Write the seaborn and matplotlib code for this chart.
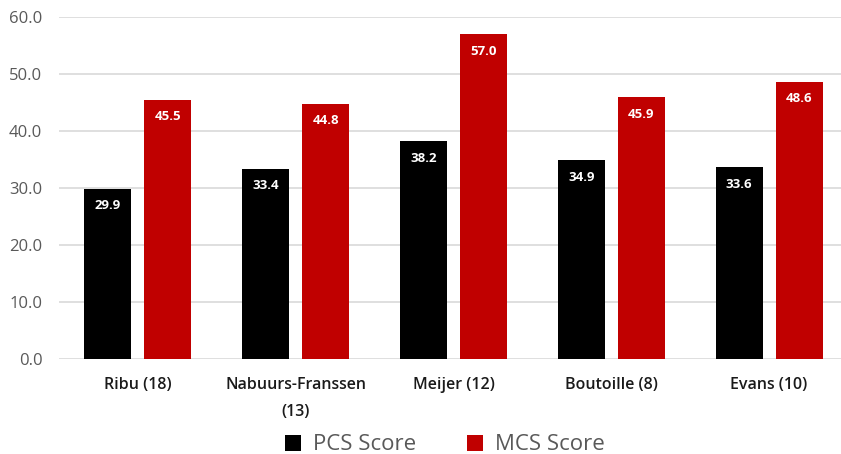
import matplotlib
matplotlib.use("Agg")
import matplotlib.pyplot as plt
import seaborn as sns
import pandas as pd
from matplotlib.patches import Patch

categories = ["Ribu (18)", "Nabuurs-Franssen\n(13)", "Meijer (12)", "Boutoille (8)", "Evans (10)"]
pcs_values = [29.9, 33.4, 38.2, 34.9, 33.6]
mcs_values = [45.5, 44.8, 57.0, 45.9, 48.6]
series_names = ["PCS Score", "MCS Score"]
y_ticks = [0, 10, 20, 30, 40, 50, 60]

df = pd.DataFrame({
    "category": categories * 2,
    "series": [series_names[0]] * len(categories) + [series_names[1]] * len(categories),
    "value": pcs_values + mcs_values,
})

sns.set_theme(style="white")
plt.rcParams['font.family'] = ['Open Sans', 'DejaVu Sans']

fig = plt.figure(figsize=(8.41, 4.54), dpi=100)
ax = fig.add_axes([59 / 841, 95 / 454, 789 / 841, 342 / 454])

palette = {"PCS Score": "#000000", "MCS Score": "#C00000"}
sns.barplot(data=df, x="category", y="value", hue="series", palette=palette,
            order=categories, hue_order=series_names, width=0.76, gap=0.215,
            ax=ax, legend=False, saturation=1, linewidth=0)

ax.set_ylim(0, 60)
ax.set_yticks(y_ticks)
ax.set_yticklabels([f"{v:.1f}" for v in y_ticks], color="#595959", fontsize=12)
ax.yaxis.grid(True, color="#D9D9D9", linewidth=1.2)
ax.set_axisbelow(True)
for s in ax.spines.values():
    s.set_visible(False)
ax.tick_params(axis="both", length=0)
ax.tick_params(axis="y", pad=12)
ax.tick_params(axis="x", pad=13)
ax.set_xlabel("")
ax.set_ylabel("")
for lbl in ax.get_xticklabels():
    lbl.set_fontweight("semibold")
    lbl.set_fontsize(11.5)
    lbl.set_color("#1a1a1a")
    lbl.set_linespacing(1.9)

for cont in ax.containers:
    for bar in cont:
        h = bar.get_height()
        ax.annotate(f"{h:.1f}", (bar.get_x() + bar.get_width() / 2, h),
                    xytext=(0, -17), textcoords="offset pixels",
                    ha="center", va="center", color="white", fontsize=9.5, fontweight="bold")

handles = [Patch(facecolor=palette[n], edgecolor="none") for n in series_names]
fig.legend(handles, series_names, loc="center", bbox_to_anchor=(445 / 841, 1 - 445 / 454),
           ncol=2, frameon=False, fontsize=16, handlelength=0.7, handleheight=0.7,
           columnspacing=2.3, handletextpad=0.55, labelcolor="#595959")

fig.savefig("out.png", dpi=100)
